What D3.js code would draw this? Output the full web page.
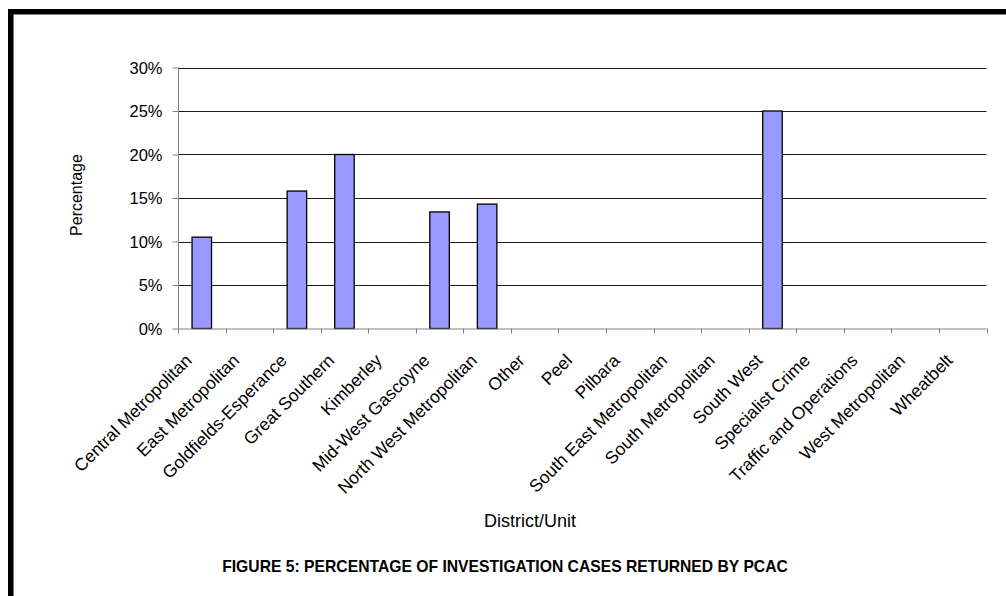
<!DOCTYPE html>
<html>
<head>
<meta charset="utf-8">
<script src="https://cdn.jsdelivr.net/npm/d3@7"></script>
<style>
  html, body { margin: 0; padding: 0; background: #fff; }
  svg { display: block; }
  text { font-family: "Liberation Sans", Arial, sans-serif; fill: #000; }
</style>
</head>
<body>
<script>
// District / unit categories along the x axis
const districts = [
  "Central Metropolitan", "East Metropolitan", "Goldfields-Esperance",
  "Great Southern", "Kimberley", "Mid-West Gascoyne",
  "North West Metropolitan", "Other", "Peel", "Pilbara",
  "South East Metropolitan", "South Metropolitan", "South West",
  "Specialist Crime", "Traffic and Operations", "West Metropolitan",
  "Wheatbelt"
];
// Share of investigation cases returned by PCAC (fraction)
const returnedShare = [
  0.105, 0, 0.158, 0.20, 0, 0.134, 0.143, 0, 0, 0, 0, 0, 0.25, 0, 0, 0, 0
];
// Y axis tick values
const yTicks = [0, 0.05, 0.10, 0.15, 0.20, 0.25, 0.30];

const W = 1006, H = 596;
const svg = d3.select("body").append("svg").attr("width", W).attr("height", H);

// page frame (top and left rules)
svg.append("rect").attr("x", 8).attr("y", 9).attr("width", W - 8).attr("height", 5.5).attr("fill", "#000");
svg.append("rect").attr("x", 8).attr("y", 9).attr("width", 5.5).attr("height", H - 9).attr("fill", "#000");

const x0 = 178, x1 = 986.5, yBase = 328.5, yTop = 67.5;

const x = d3.scaleBand().domain(districts).range([x0, x1]).paddingInner(0).paddingOuter(0);
const y = d3.scaleLinear().domain([0, 0.30]).range([yBase, yTop]);

// horizontal gridlines
svg.append("g").selectAll("line").data(yTicks.filter(d => d > 0)).join("line")
  .attr("x1", x0).attr("x2", x1)
  .attr("y1", d => Math.round(y(d)) + 0.5).attr("y2", d => Math.round(y(d)) + 0.5)
  .attr("stroke", "#1a1a1a").attr("stroke-width", 1);

// bars
const barW = x.bandwidth() * 0.41;
svg.append("g").selectAll("rect").data(districts.map((d, i) => ({ d, v: returnedShare[i] })).filter(o => o.v > 0))
  .join("rect")
  .attr("x", o => x(o.d) + (x.bandwidth() - barW) / 2)
  .attr("y", o => y(o.v))
  .attr("width", barW)
  .attr("height", o => y(0) - y(o.v))
  .attr("fill", "#9999ff")
  .attr("stroke", "#000")
  .attr("stroke-width", 1.3);

// y axis
const yAxis = d3.axisLeft(y).tickValues(yTicks).tickFormat(d3.format(".0%")).tickSize(6).tickPadding(10);
const gy = svg.append("g").attr("transform", `translate(${x0 + 0.5},0)`).call(yAxis);
gy.select(".domain").attr("stroke", "#808080").attr("d", `M0,${yTop}V${yBase}`);
gy.selectAll(".tick line").attr("stroke", "#808080");
gy.selectAll(".tick text").style("font-size", "16.5px").attr("fill", "#000").attr("dy", "0.36em");

// x axis: boundary tick marks between categories
const bounds = districts.map(d => x(d)).concat([x1]);
const gx = svg.append("g");
gx.append("line").attr("x1", x0).attr("x2", x1).attr("y1", yBase + 0.5).attr("y2", yBase + 0.5)
  .attr("stroke", "#808080").attr("stroke-width", 1);
gx.selectAll("line.tk").data(bounds).join("line").attr("class", "tk")
  .attr("x1", d => Math.round(d) + 0.5).attr("x2", d => Math.round(d) + 0.5)
  .attr("y1", yBase).attr("y2", yBase + 5)
  .attr("stroke", "#808080");

// rotated category labels
gx.selectAll("text").data(districts).join("text")
  .attr("transform", d => `translate(${x(d) + x.bandwidth() / 2 - 9},${yBase + 33}) rotate(-45)`)
  .attr("text-anchor", "end")
  .style("font-size", "17.5px")
  .text(d => d);

// axis titles
svg.append("text")
  .attr("transform", `translate(81.5,195) rotate(-90)`)
  .attr("text-anchor", "middle")
  .style("font-size", "16px")
  .text("Percentage");

svg.append("text")
  .attr("x", 530).attr("y", 527)
  .attr("text-anchor", "middle")
  .style("font-size", "18px")
  .text("District/Unit");

// figure caption
svg.append("text")
  .attr("x", 505).attr("y", 571.5)
  .attr("text-anchor", "middle")
  .style("font-size", "15.7px").style("font-weight", "bold")
  .text("FIGURE 5: PERCENTAGE OF INVESTIGATION CASES RETURNED BY PCAC");
</script>
</body>
</html>
